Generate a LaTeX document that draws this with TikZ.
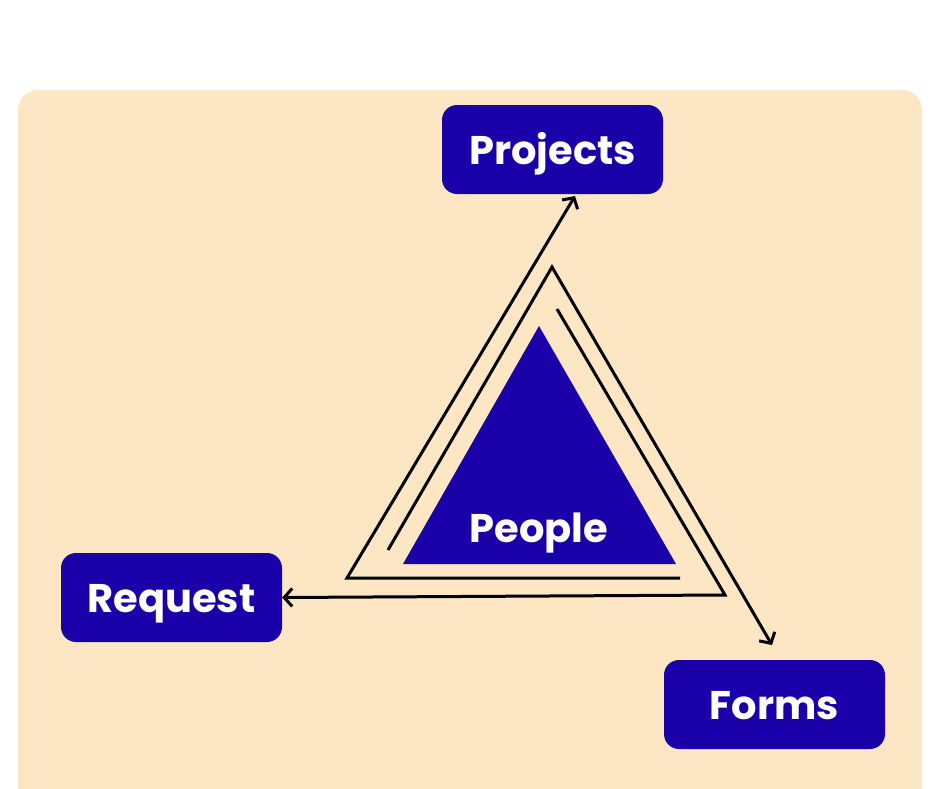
\documentclass[tikz,border=0pt]{standalone}
\usepackage{fontspec}
\setmainfont{Poppins}
\usepackage{tikz}
\usetikzlibrary{arrows.meta,positioning,calc}
\definecolor{peach}{HTML}{FDE6C4}
\definecolor{ink}{HTML}{1A00A8}

\begin{document}
\begin{tikzpicture}[x=1pt, y=-1pt,
    tag/.style={fill=ink, rounded corners=15pt, minimum width=221pt, minimum height=89pt, text=white, text height=29pt, text depth=0pt, font=\fontsize{40}{44}\selectfont\bfseries},
    arrow/.style={-{Straight Barb[length=8pt, width=18pt, line width=3pt]}, line width=3pt, line join=miter}
]
\clip (0,0) rectangle (940,788);
\useasboundingbox (0,0) rectangle (940,788);

% Background card
\fill[peach, rounded corners=20pt] (18,90) rectangle (922,830);

% Boxes
\node[tag] (proj) at (552.5,149.5) {Projects};
\node[tag] (req) at (171.5,597.5) {Request};
\node[tag] (forms) at (774.5,704.5) {Forms};

% Core triangle
\fill[ink] (539,326) -- (676,564) -- (403,564) -- cycle;
\node[anchor=base, text=white, font=\fontsize{40}{44}\selectfont\bfseries] (people) at (539,542) {People};

% Corner points of the spiral
\coordinate (leftend) at (680,578);
\coordinate (leftcorner) at (347,578);
\coordinate (projtip) at (575,196);
\coordinate (apexstart) at (388,550);
\coordinate (apex) at (552,267);
\coordinate (formstip) at (772,645);
\coordinate (rightstart) at (557,309);
\coordinate (rightcorner) at (725,595);

% Spiral arrows
\draw[arrow] (leftend) -- (leftcorner) -- (projtip);
\draw[arrow] (apexstart) -- (apex) -- (formstip);
\draw[arrow] (rightstart) -- (rightcorner) -- (req.east);

\end{tikzpicture}
\end{document}
